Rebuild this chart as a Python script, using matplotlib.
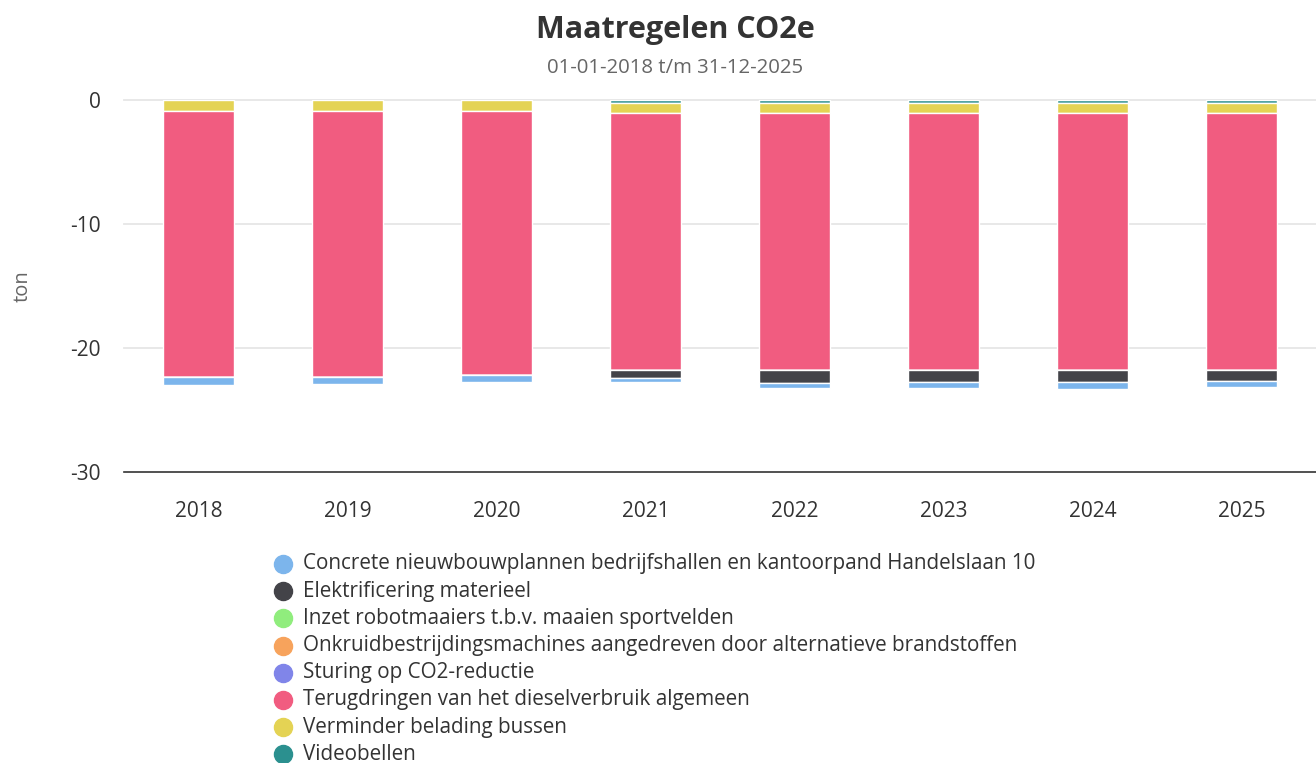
import numpy as np
import matplotlib
matplotlib.use('Agg')
import matplotlib.pyplot as plt
from matplotlib.lines import Line2D

plt.rcParams['font.family'] = ['Open Sans', 'DejaVu Sans']

years = ['2018', '2019', '2020', '2021', '2022', '2023', '2024', '2025']

series_names = [
    'Concrete nieuwbouwplannen bedrijfshallen en kantoorpand Handelslaan 10',
    'Elektrificering materieel',
    'Inzet robotmaaiers t.b.v. maaien sportvelden',
    'Onkruidbestrijdingsmachines aangedreven door alternatieve brandstoffen',
    'Sturing op CO2-reductie',
    'Terugdringen van het dieselverbruik algemeen',
    'Verminder belading bussen',
    'Videobellen',
]
colors = ['#7cb5ec', '#434348', '#90ed7d', '#f7a35c', '#8085e9',
          '#f15c80', '#e4d354', '#2b908f']

# ton CO2e (negative = reduction)
concrete = [-0.58, -0.57, -0.61, -0.34, -0.43, -0.43, -0.55, -0.54]
elektrificering = [0, 0, 0, -0.58, -0.99, -1.03, -0.98, -0.87]
robotmaaiers = [0, 0, 0, 0, 0, 0, 0, 0]
onkruid = [0, 0, 0, 0, 0, 0, 0, 0]
sturing = [0, 0, 0, 0, 0, 0, 0, 0]
diesel = [-21.52, -21.50, -21.31, -20.72, -20.72, -20.67, -20.72, -20.69]
belading = [-0.85, -0.85, -0.85, -0.82, -0.82, -0.82, -0.82, -0.82]
videobellen = [0, 0, 0, -0.26, -0.26, -0.26, -0.26, -0.26]

data = [concrete, elektrificering, robotmaaiers, onkruid, sturing,
        diesel, belading, videobellen]

fig = plt.figure(figsize=(13.16, 7.63), dpi=100)
ax = fig.add_axes([124 / 1316, 1 - 472 / 763, 1192 / 1316, 372 / 763])

x = np.arange(len(years))
# stack from zero downward: last series closest to zero
bottom = np.zeros(len(years))
for i in range(len(data) - 1, -1, -1):
    vals = np.array(data[i], dtype=float)
    ax.bar(x, vals, width=0.48, bottom=bottom, color=colors[i],
           edgecolor='white', linewidth=1.0, zorder=3)
    bottom = bottom + vals

ax.set_xlim(-0.5, len(years) - 0.5)
ax.set_ylim(-30, 0)
ax.set_yticks([0, -10, -20, -30])
ax.set_yticklabels(['0', '-10', '-20', '-30'])
ax.set_xticks(x)
ax.set_xticklabels(years)
ax.tick_params(axis='both', length=0, labelsize=15, colors='#333333')
ax.tick_params(axis='y', pad=17)
ax.tick_params(axis='x', pad=21)
for s in ['top', 'right', 'left']:
    ax.spines[s].set_visible(False)
ax.spines['bottom'].set_color('#333333')
ax.spines['bottom'].set_linewidth(1.2)
for yv in [0, -10, -20]:
    ax.axhline(yv, color='#e6e6e6', linewidth=1.3, zorder=1, clip_on=False)
ax.set_ylabel('ton', fontsize=14.5, color='#666666')
ax.yaxis.set_label_coords(-0.077, 0.5)

fig.text(675 / 1316, 1 - 30 / 763, 'Maatregelen CO2e', ha='center',
         va='center', fontsize=22, fontweight='bold', color='#333333')
fig.text(675 / 1316, 1 - 68 / 763, '01-01-2018 t/m 31-12-2025',
         ha='center', va='center', fontsize=14.7, color='#666666')

# legend
for i, name in enumerate(series_names):
    ypix = 564 + i * 27.2
    yf = 1 - ypix / 763
    fig.add_artist(Line2D([283 / 1316], [yf], marker='o', markersize=13,
                          color=colors[i], linestyle='none',
                          transform=fig.transFigure))
    fig.text(303 / 1316, yf, name, ha='left', va='center', fontsize=14.9,
             color='#333333')

plt.savefig('out.png', dpi=100)
